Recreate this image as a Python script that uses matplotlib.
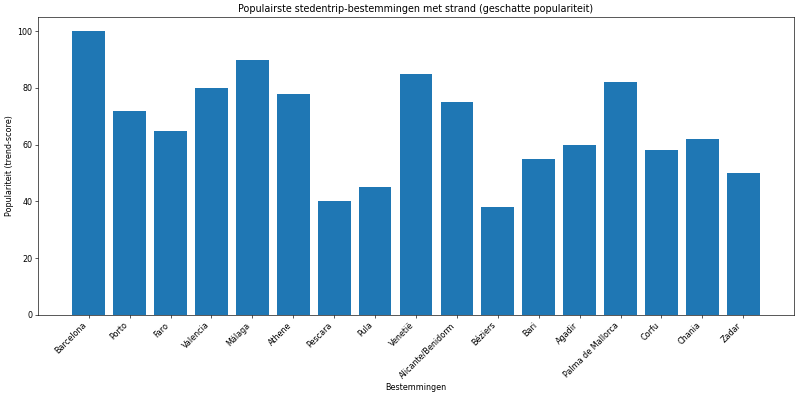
import matplotlib
matplotlib.use("Agg")
import matplotlib.pyplot as plt

destinations = ["Barcelona", "Porto", "Faro", "Valencia", "Málaga", "Athene", "Pescara",
                "Pula", "Venetië", "Alicante/Benidorm", "Béziers", "Bari", "Agadir",
                "Palma de Mallorca", "Corfu", "Chania", "Zadar"]
popularity = [100, 72, 65, 80, 90, 78, 40, 45, 85, 75, 38, 55, 60, 82, 58, 62, 50]

DPI = 57.5
fig, ax = plt.subplots(figsize=(800 / DPI, 396 / DPI))
ax.bar(destinations, popularity, color="#1f77b4")
ax.set_title("Populairste stedentrip-bestemmingen met strand (geschatte populariteit)")
ax.set_xlabel("Bestemmingen")
ax.set_ylabel("Populariteit (trend-score)")
plt.setp(ax.get_xticklabels(), rotation=45, ha="right")
fig.subplots_adjust(left=38 / 800, right=794 / 800, top=1 - 17 / 396, bottom=1 - 315 / 396)
fig.savefig("out.png", dpi=DPI)
